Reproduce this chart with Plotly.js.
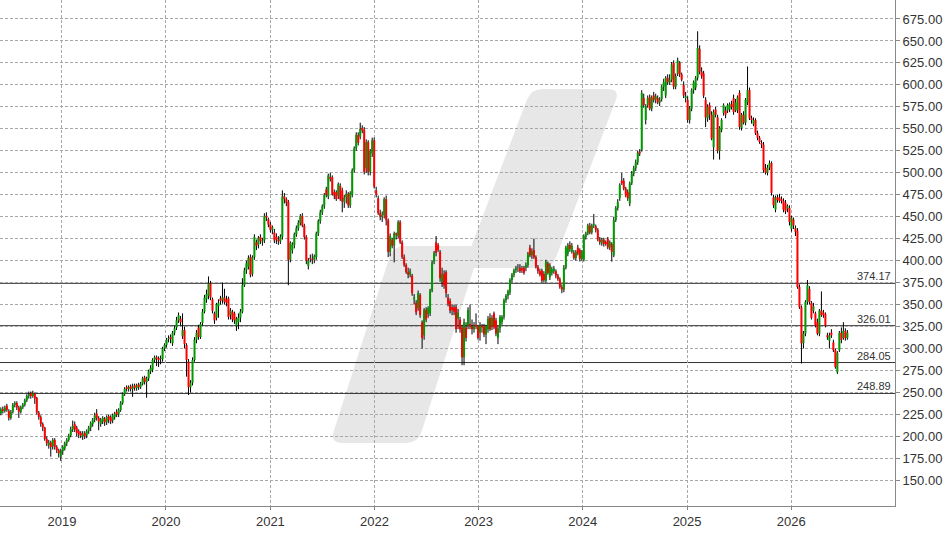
<!DOCTYPE html>
<html>
<head>
<meta charset="utf-8">
<script src="https://cdn.plot.ly/plotly-3.0.1.min.js"></script>
<style>
html,body{margin:0;padding:0;background:#fff;}
#chart{width:948px;height:534px;}
</style>
</head>
<body>
<div id="chart"></div>
<script>
// Weekly candles, first week starting 2018-06-01
const startDate = '2018-06-01';

const open = [
226,231,229,235,229,221,228,236,238,233,
228,233,236,241,246,249,246,249,244,227,
222,214,210,197,190,193,189,196,188,184,
177,183,186,192,196,201,208,214,210,206,
204,200,204,201,206,210,214,219,226,221,
214,217,220,216,223,222,218,222,228,225,
230,238,248,256,254,257,254,258,255,259,
256,260,267,262,266,274,276,287,290,289,
288,288,300,304,311,313,306,318,324,332,
334,314,321,304,285,256,261,287,310,324,
313,329,342,356,360,374,356,340,335,348,
357,355,358,356,357,338,342,340,326,330,
335,342,372,389,393,404,385,404,421,418,
427,422,423,451,447,441,435,432,427,424,
422,427,473,470,467,401,412,418,430,437,
443,451,440,427,394,403,402,401,404,431,
445,455,462,481,473,495,495,478,478,474,
485,480,467,472,476,463,475,503,528,543,
541,551,549,505,535,501,522,537,480,471,
454,450,452,470,446,410,424,417,431,428,
444,421,404,395,387,384,383,356,352,346,
361,330,315,344,339,340,366,399,421,418,
410,376,385,387,358,354,347,347,347,334,
333,324,290,324,326,328,325,322,327,325,
318,326,325,316,322,335,326,340,332,312,
323,330,336,355,360,364,378,384,389,392,
392,391,392,392,395,415,406,412,404,393,
388,389,385,377,397,381,386,388,388,383,
379,370,367,392,408,418,410,409,403,415,
412,402,401,427,431,440,432,440,439,435,
424,420,424,421,425,415,419,406,446,460,
471,491,491,482,478,465,488,499,505,512,
524,526,585,560,577,586,573,588,583,585,
580,584,598,588,608,603,606,625,598,613,
625,612,600,585,583,560,573,594,597,608,
641,615,613,583,562,577,566,529,572,563,
525,549,568,571,571,572,578,585,571,571,
591,551,566,557,580,594,562,555,560,545,
540,534,532,505,500,506,511,472,458,472,
472,470,468,466,459,460,436,447,437,434,
370,347,306,317,353,368,352,343,340,330,
317,343,341,339,315,309,318,307,298,273,
298,318,312,320,312
];

const high = [
233,234,235,237,231,230,238,240,240,235,
235,238,243,248,251,251,252,250,245,229,
224,216,211,200,196,195,198,198,190,186,
186,190,194,198,203,211,218,217,212,208,
206,206,206,208,212,217,221,227,231,223,
221,223,222,224,225,224,226,228,231,232,
240,250,256,258,258,259,260,260,260,261,
262,268,269,268,276,281,289,292,292,291,
292,302,306,312,315,316,320,326,336,341,
337,340,325,306,288,264,290,313,321,327,
330,345,361,367,382,377,358,342,352,356,
360,375,368,360,359,346,344,342,336,340,
345,380,392,400,406,407,406,430,424,428,
430,426,454,455,449,444,440,436,431,428,
430,480,477,472,469,422,421,432,440,446,
453,454,442,429,403,407,408,407,433,447,
458,464,477,484,499,500,497,481,480,489,
488,483,475,480,478,479,505,530,546,546,
557,554,552,538,537,527,540,540,484,474,
458,456,472,474,448,431,426,433,432,446,
446,423,407,397,392,391,385,362,355,366,
363,332,346,347,348,368,400,411,428,420,
412,392,389,389,362,357,350,350,350,345,
336,327,334,330,347,350,333,330,340,327,
330,328,328,327,337,340,338,342,335,326,
338,338,357,362,367,380,386,391,394,396,
396,394,394,398,410,418,414,425,406,395,
391,391,388,401,399,397,393,394,390,385,
381,373,395,417,420,422,420,412,412,418,
414,412,430,433,442,443,442,453,441,437,
427,426,426,423,427,423,421,450,462,470,
488,500,494,484,481,490,502,508,515,525,
527,594,590,578,588,589,588,592,590,588,
586,600,607,610,612,612,626,628,613,631,
627,614,604,592,587,576,596,605,610,661,
645,620,616,586,578,580,570,572,575,566,
553,562,579,575,579,580,582,589,584,588,
594,568,570,585,621,597,565,563,562,548,
542,537,535,510,509,514,513,475,474,475,
476,473,471,469,464,463,451,449,440,437,
373,349,320,355,378,371,354,352,342,334,
345,365,344,341,318,318,322,310,300,297,
320,324,330,323,321
];

const low = [
224,226,227,228,218,219,226,233,230,221,
226,231,234,239,243,243,244,237,225,219,
211,206,195,189,186,177,185,185,181,176,
172,179,184,189,194,199,205,205,200,198,
198,196,197,198,203,206,211,216,218,207,
211,214,212,213,215,214,215,219,222,222,
228,236,246,251,251,251,245,252,252,253,
254,258,259,244,263,271,273,284,280,279,
282,285,297,301,307,306,303,315,321,329,
326,311,300,268,247,250,258,285,306,310,
311,326,340,352,356,355,340,328,332,335,
350,351,350,348,333,333,330,328,320,322,
330,340,370,385,390,381,382,401,412,414,
419,417,420,445,438,432,430,420,419,418,
419,424,465,462,372,398,408,414,427,434,
440,438,424,396,390,398,396,397,401,428,
442,452,459,472,470,490,474,470,468,470,
468,455,460,465,460,460,472,500,525,531,
538,545,498,500,497,497,518,482,472,452,
446,444,448,440,404,405,414,398,424,425,
419,402,393,385,380,381,360,350,338,343,
335,300,310,330,335,337,364,396,405,410,
376,370,368,358,348,340,338,338,318,322,
318,281,281,308,322,322,316,318,322,310,
309,318,313,305,318,320,321,322,314,305,
318,327,333,352,356,361,375,381,386,387,
386,386,384,388,392,404,402,402,391,385,
382,375,375,375,384,378,383,385,380,377,
368,363,364,390,405,410,408,401,400,406,
399,400,399,424,429,430,430,437,432,422,
418,417,416,417,413,412,399,404,444,457,
468,486,480,472,468,462,486,496,502,509,
519,524,574,555,574,571,570,580,579,578,
576,581,593,585,600,600,603,595,595,610,
609,604,585,580,557,556,570,590,594,605,
612,607,585,552,558,560,537,515,563,522,
515,546,565,562,568,569,572,566,569,568,
549,548,555,554,577,560,556,553,543,537,
533,528,500,498,497,503,474,460,455,466,
466,465,455,453,455,440,433,436,428,368,
345,283,300,314,350,350,333,340,324,315,
314,336,335,324,310,300,312,296,277,271,
296,306,310,309,310
];

const close = [
231,229,233,230,221,228,236,238,233,228,
233,236,241,246,248,246,249,243,227,222,
214,210,197,192,193,188,196,188,184,181,
183,188,192,196,201,208,212,208,204,202,
201,203,200,206,210,215,219,224,221,217,
219,221,216,222,219,217,224,226,225,230,
238,248,254,254,256,254,257,255,258,256,
260,266,262,266,274,278,287,290,288,287,
289,300,304,310,312,311,318,323,332,338,
330,321,305,287,256,261,287,310,318,313,
328,342,358,362,374,358,343,332,350,352,
354,358,353,352,336,343,333,332,334,335,
342,372,389,397,403,384,404,427,417,426,
422,423,451,449,441,435,438,423,424,422,
427,473,470,466,401,420,418,430,437,443,
451,440,427,400,400,402,401,405,431,445,
455,462,475,475,497,493,476,474,470,487,
470,467,472,476,463,477,503,528,543,534,
550,548,501,535,501,525,537,484,475,454,
450,452,470,446,410,428,417,431,429,444,
421,404,395,387,384,388,363,358,341,363,
338,312,344,333,346,366,398,409,409,412,
380,385,372,363,351,343,344,342,322,341,
322,290,330,312,344,325,322,326,325,312,
326,324,316,325,334,322,335,324,317,323,
336,336,355,360,365,378,384,389,392,392,
388,389,386,395,408,406,411,404,393,388,
384,377,378,399,386,395,390,391,383,379,
370,367,392,415,418,413,417,403,410,408,
402,410,428,431,440,432,440,442,435,424,
421,424,419,419,415,421,410,446,460,467,
486,488,482,474,471,488,499,505,512,523,
522,591,577,576,585,573,586,583,587,580,
583,598,603,608,603,606,623,598,610,628,
612,606,588,587,560,573,594,603,608,642,
615,610,588,563,575,566,539,569,566,525,
551,560,577,566,577,578,575,569,580,586,
552,566,557,583,594,562,560,560,545,540,
535,532,503,500,506,511,477,463,472,469,
468,468,458,456,462,444,449,440,433,370,
347,306,317,353,372,353,335,348,326,317,
343,338,338,326,313,315,315,298,279,295,
318,310,320,312,318
];

// Horizontal support / resistance levels
const levels = [374.17, 326.01, 284.05, 248.89];

// Price-axis tick values
const yTicks = [150,175,200,225,250,275,300,325,350,375,400,425,450,475,500,525,550,575,600,625,650,675];

// --- build traces ---
const t0 = Date.parse(startDate + 'T00:00:00Z');
const n = Math.min(open.length, high.length, low.length, close.length);
const dates = [];
for (let i = 0; i < n; i++) dates.push(new Date(t0 + i * 7 * 864e5).toISOString().slice(0, 10));

const wx = [], wy = [];
const ux = [], uy = [];
const dx = [], dy = [];
for (let i = 0; i < n; i++) {
  wx.push(dates[i], dates[i], null);
  wy.push(low[i], high[i], null);
  if (close[i] >= open[i]) { ux.push(dates[i], dates[i], null); uy.push(open[i], close[i], null); }
  else { dx.push(dates[i], dates[i], null); dy.push(open[i], close[i], null); }
}

const traces = [
  {type:'scatter', mode:'lines', x:wx, y:wy, line:{color:'#000', width:1}, hoverinfo:'skip'},
  {type:'scatter', mode:'lines', x:ux, y:uy, line:{color:'#009a00', width:2}, hoverinfo:'skip'},
  {type:'scatter', mode:'lines', x:dx, y:dy, line:{color:'#ff0000', width:2}, hoverinfo:'skip'}
];

// watermark logo (decorative), in paper coordinates of the plot area (895 x 506 px)
function P(pt){ return (pt[0]/895).toFixed(4) + ',' + (1 - pt[1]/506).toFixed(4); }
function roundedPoly(pts, r){
  const m = pts.length; let d = '';
  for (let i = 0; i < m; i++) {
    const p = pts[i], a = pts[(i + m - 1) % m], b = pts[(i + 1) % m];
    const la = Math.hypot(a[0]-p[0], a[1]-p[1]), lb = Math.hypot(b[0]-p[0], b[1]-p[1]);
    const s = [p[0] + (a[0]-p[0]) * r / la, p[1] + (a[1]-p[1]) * r / la];
    const e = [p[0] + (b[0]-p[0]) * r / lb, p[1] + (b[1]-p[1]) * r / lb];
    d += (i === 0 ? 'M' : ' L') + P(s) + ' Q' + P(p) + ' ' + P(e);
  }
  return d + ' Z';
}
const wmLower = roundedPoly([[330,443],[418,443],[481,246],[393,246]], 12);
const wmUpper = roundedPoly([[463,268],[552,268],[620,89],[531,89]], 12);

const shapes = [
  {type:'path', xref:'paper', yref:'paper', path: wmLower, fillcolor:'#e7e7e7', line:{width:0}, layer:'below'},
  {type:'path', xref:'paper', yref:'paper', path: wmUpper, fillcolor:'#e7e7e7', line:{width:0}, layer:'below'}
];
const annotations = [];
levels.forEach(v => {
  shapes.push({type:'line', xref:'paper', x0:0, x1:1, yref:'y', y0:v, y1:v, line:{color:'#333', width:1}, layer:'between'});
  annotations.push({xref:'paper', x:1, xanchor:'right', yref:'y', y:v, yanchor:'bottom', text:v.toFixed(2),
    showarrow:false, font:{family:'Liberation Sans, Arial, sans-serif', size:11, color:'#333'}, xshift:-2, yshift:-1});
});

const font = {family:'Liberation Sans, Arial, sans-serif', size:13, color:'#333'};
const layout = {
  width:948, height:534,
  margin:{l:0, r:53, t:0, b:28},
  paper_bgcolor:'#fff', plot_bgcolor:'#fff',
  showlegend:false, hovermode:false,
  font: font,
  xaxis:{
    type:'date', range:['2018-05-29','2026-12-31'],
    tick0:'2019-01-01', dtick:'M12', tickformat:'%Y',
    showgrid:true, gridcolor:'#a8a8a8', griddash:'3px,2px', gridwidth:1,
    showline:true, linecolor:'#888', linewidth:1,
    ticks:'outside', ticklen:3, tickcolor:'#888',
    tickfont:font, zeroline:false, fixedrange:true
  },
  yaxis:{
    side:'right', range:[120.8, 696.6],
    tickmode:'array', tickvals:yTicks, ticktext:yTicks.map(v => v.toFixed(2)),
    showgrid:true, gridcolor:'#a8a8a8', griddash:'3px,2px', gridwidth:1,
    showline:true, linecolor:'#888', linewidth:1,
    ticks:'outside', ticklen:4, tickcolor:'#888',
    tickfont:font, zeroline:false, fixedrange:true
  },
  shapes: shapes,
  annotations: annotations
};

Plotly.newPlot('chart', traces, layout, {staticPlot:true, displayModeBar:false});
</script>
</body>
</html>
